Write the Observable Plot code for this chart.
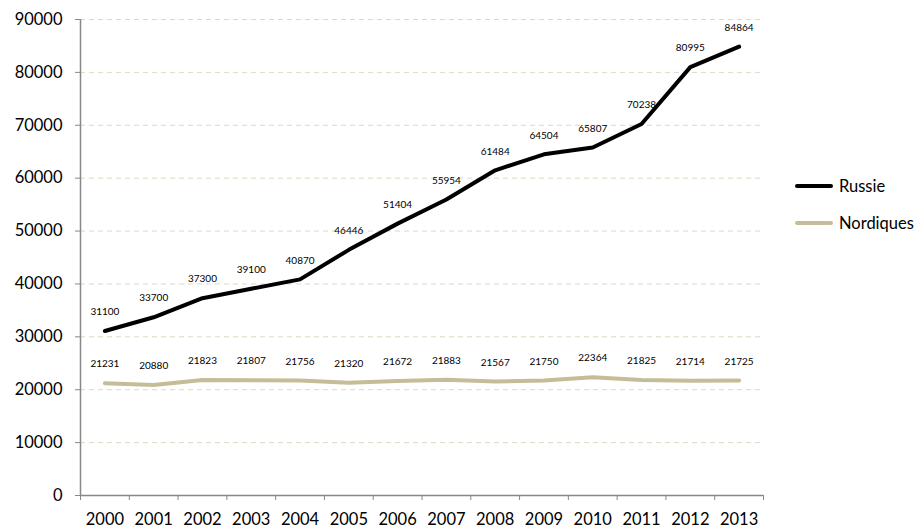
<!DOCTYPE html>
<html>
<head>
<meta charset="utf-8">
<script src="https://cdn.jsdelivr.net/npm/d3@7"></script>
<script src="https://cdn.jsdelivr.net/npm/@observablehq/plot@0.6"></script>
<style>
  body { margin: 0; background: #fff; font-family: Lato, "Open Sans", sans-serif; }
  #wrap { position: relative; width: 921px; height: 529px; }
  #legend { position: absolute; left: 795px; top: 167px; font-size: 16.5px; color: #000; }
  .item { display: flex; align-items: center; height: 37px; }
  .sw { width: 38px; height: 4px; border-radius: 2px; margin-right: 6px; }
</style>
</head>
<body>
<div id="wrap"><div id="legend"></div></div>
<script>
const years = [2000,2001,2002,2003,2004,2005,2006,2007,2008,2009,2010,2011,2012,2013];
const russie = [31100,33700,37300,39100,40870,46446,51404,55954,61484,64504,65807,70238,80995,84864];
const nordiques = [21231,20880,21823,21807,21756,21320,21672,21883,21567,21750,22364,21825,21714,21725];
const seriesNames = ["Russie","Nordiques"];
const seriesColors = ["#000000","#c4bd97"];
const yTicks = [0,10000,20000,30000,40000,50000,60000,70000,80000,90000];

const data = [
  ...years.map((y,i)=>({year:y, value:russie[i], serie:"Russie"})),
  ...years.map((y,i)=>({year:y, value:nordiques[i], serie:"Nordiques"}))
];
const bounds = d3.range(years.length + 1).map(i => years[0] - 0.5 + i);

const plot = Plot.plot({
  width: 921, height: 529,
  marginLeft: 80, marginRight: 158, marginTop: 19, marginBottom: 34,
  style: {fontFamily: "Lato, 'Open Sans', sans-serif", background: "#fff"},
  x: {domain: [bounds[0], bounds[bounds.length-1]]},
  y: {domain: [0, 90000]},
  color: {domain: seriesNames, range: seriesColors},
  marks: [
    Plot.gridY(yTicks.filter(d => d > 0), {stroke: "#ddd9c3", strokeOpacity: 1, strokeDasharray: "5,4", strokeWidth: 1}),
    Plot.axisY(yTicks, {tickSize: 5, tickPadding: 13, fontSize: 16.5, stroke: "#888", color: "#000", tickFormat: d => String(d), label: null}),
    Plot.axisX(bounds, {tickSize: 5, tickFormat: () => "", stroke: "#888", label: null}),
    Plot.axisX(years, {tickSize: 0, tickPadding: 18, fontSize: 16.5, tickFormat: d => String(d), label: null, fill: "#000"}),
    Plot.ruleY([0], {stroke: "#888", strokeWidth: 1.5}),
    Plot.ruleX([bounds[0]], {y1: 0, y2: 90000, stroke: "#888", strokeWidth: 1.5}),
    Plot.line(data, {x: "year", y: "value", z: "serie", stroke: "serie", strokeWidth: 4, curve: "linear"}),
    Plot.text(data, {x: "year", y: "value", text: d => String(d.value), dy: -19, fontSize: 10, fill: "#000"})
  ]
});
document.getElementById("wrap").prepend(plot);
plot.style.position = "absolute"; plot.style.left = "0"; plot.style.top = "0";

const legend = document.getElementById("legend");
seriesNames.forEach((n,i) => {
  const it = document.createElement("div"); it.className = "item";
  const sw = document.createElement("div"); sw.className = "sw"; sw.style.background = seriesColors[i];
  const t = document.createElement("span"); t.textContent = n;
  it.append(sw, t); legend.append(it);
});
</script>
</body>
</html>
